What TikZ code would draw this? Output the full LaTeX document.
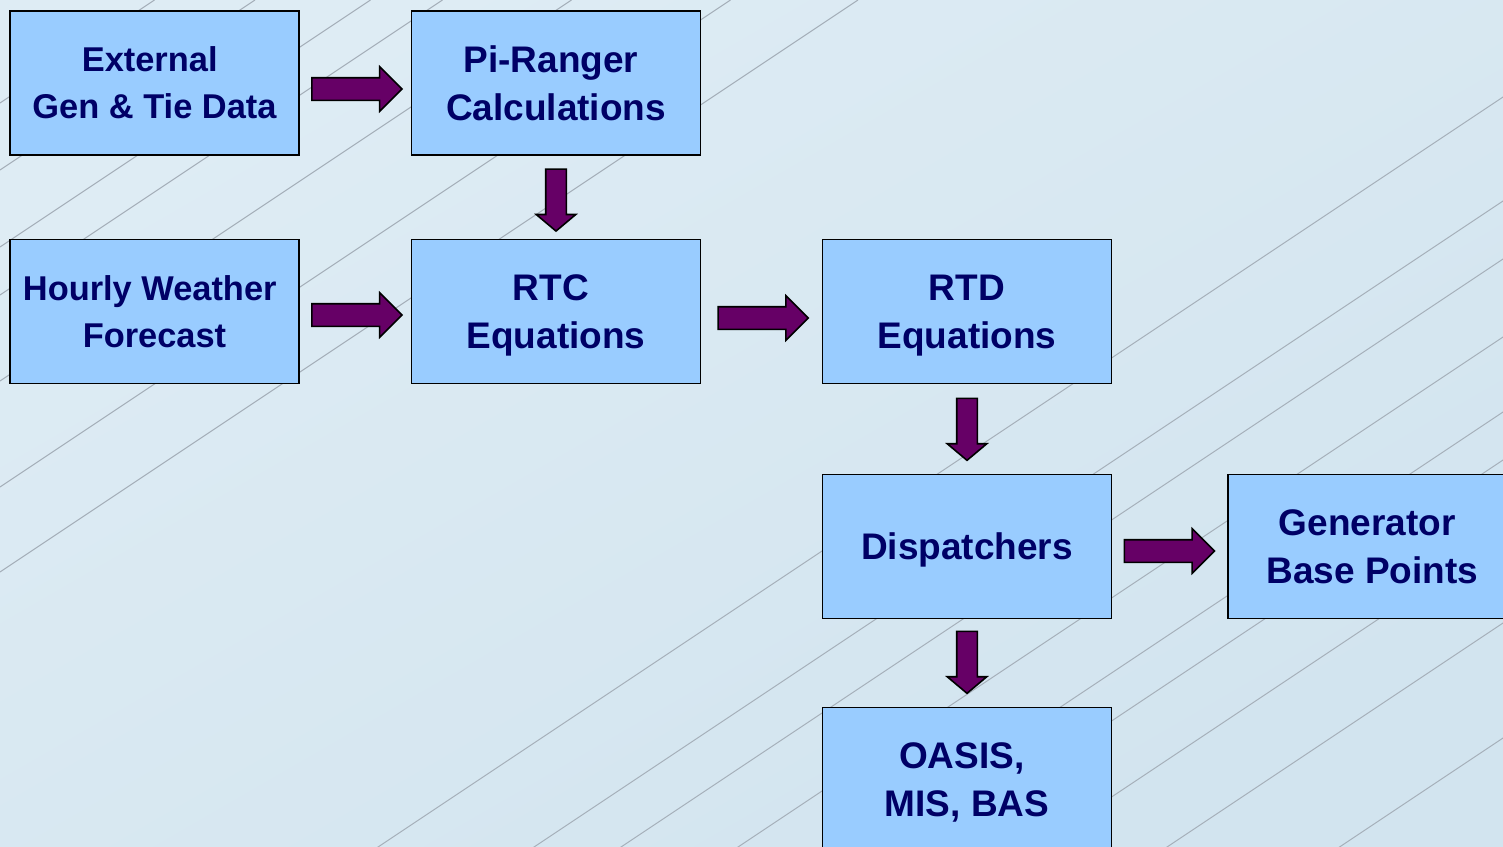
\documentclass[tikz,border=0pt]{standalone}
\usepackage{fontspec}
\setmainfont{Liberation Sans}
\usetikzlibrary{shapes.arrows}

\begin{document}
\begin{tikzpicture}[x=0.5pt,y=-0.5pt,
  blk/.style={draw=black,line width=0.9pt,fill=\boxfill,text=\ink,
    minimum width=144.5pt,minimum height=72pt,align=center,inner sep=0pt,
    text depth=0pt,font=\bfseries\fontsize{18.5}{24}\selectfont},
  blksm/.style={blk,font=\bfseries\fontsize{17.2}{23.5}\selectfont},
  harr/.style={single arrow,draw=black,line width=0.8pt,fill=\arr,
    inner xsep=0pt,inner ysep=5.25pt,minimum height=45pt,
    single arrow head extend=5.5pt,single arrow tip angle=90},
  varr/.style={harr,minimum height=31pt,inner ysep=4.75pt,
    single arrow head extend=4.75pt,single arrow tip angle=100},
  bgln/.style={draw=\lnc,line width=0.5pt}]
  \def\boxfill{rgb,255:red,153;green,204;blue,255}
  \def\ink{rgb,255:red,0;green,0;blue,102}
  \def\arr{rgb,255:red,102;green,0;blue,102}
  \def\lnc{rgb,255:red,165;green,175;blue,185}
  \colorlet{bgtop}{rgb,255:red,222;green,236;blue,244}
  \colorlet{bgbot}{rgb,255:red,210;green,228;blue,239}
  \def\trail{\hspace*{.278em}}
  \def\flow#1#2#3#4{\path (#1) -- (#2) node[#3,midway,sloped] (#4) {};}

  \useasboundingbox (0,0) rectangle (1503,846);
  \clip (0,0) rectangle (1503,846);
  \shade[top color=bgtop,bottom color=bgbot,shading angle=30] (0,0) rectangle (1503,846);
  % background hatching
  \foreach \c in {103,170,247,295,381,487,572,1099,1203,1261,1339,1414,1462,1538,1625,1740}
    \draw[bgln] (0,\c) -- ({1.5*\c},0);

  \node[blksm] (ext) at (154.5,83) {External\trail\\Gen \& Tie Data};
  \node[blk] (pi) at (556,83) {Pi-Ranger\trail\\Calculations};
  \node[blksm] (hwf) at (154.5,311.5) {Hourly Weather\trail\\Forecast};
  \node[blk] (rtc) at (556,311.5) {RTC\trail\\Equations};
  \node[blk] (rtd) at (967,311.5) {RTD\\Equations};
  \node[blk] (disp) at (967,546.5) {Dispatchers};
  \node[blk] (gen) at (1372.5,546.5) {Generator\trail\\Base Points};
  \node[blk] (oasis) at (967,779.5) {OASIS,\trail\\MIS, BAS};

  \flow{[xshift=-2pt,yshift=-3pt]ext.east}{[xshift=-2pt,yshift=-3pt]pi.west}{harr}{a1}
  \flow{[yshift=0.75pt]pi.south}{[yshift=0.75pt]rtc.north}{varr}{a2}
  \flow{[xshift=-2pt,yshift=-1.75pt]hwf.east}{[xshift=-2pt,yshift=-1.75pt]rtc.west}{harr}{a3}
  \flow{[xshift=-2pt,yshift=-3.25pt]rtc.east}{[xshift=-2pt,yshift=-3.25pt]rtd.west}{harr}{a4}
  \flow{[yshift=2pt]rtd.south}{[yshift=2pt]disp.north}{varr}{a5}
  \flow{[xshift=-3pt,yshift=-2.25pt]disp.east}{[xshift=-3pt,yshift=-2.25pt]gen.west}{harr}{a6}
  \flow{[yshift=2.5pt]disp.south}{[yshift=2.5pt]oasis.north}{varr}{a7}
\end{tikzpicture}
\end{document}
